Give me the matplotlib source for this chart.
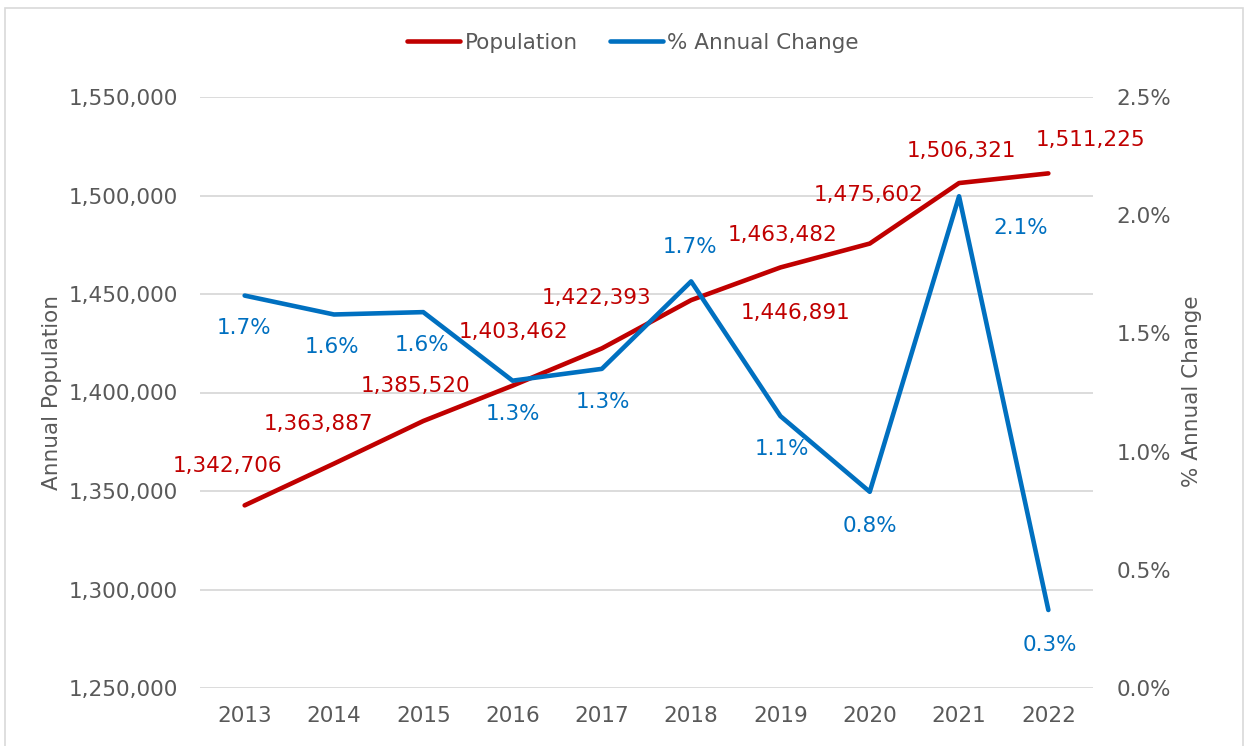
import matplotlib.pyplot as plt
from matplotlib.patches import Rectangle
from matplotlib.ticker import FuncFormatter, MultipleLocator

plt.rcParams['font.family'] = ['DejaVu Sans']

# data
years = ["2013", "2014", "2015", "2016", "2017", "2018", "2019", "2020", "2021", "2022"]
population = [1342706, 1363887, 1385520, 1403462, 1422393, 1446891, 1463482, 1475602, 1506321, 1511225]
pct_change = [1.66, 1.58, 1.59, 1.30, 1.35, 1.72, 1.15, 0.83, 2.08, 0.33]
pct_labels = ["1.7%", "1.6%", "1.6%", "1.3%", "1.3%", "1.7%", "1.1%", "0.8%", "2.1%", "0.3%"]

# label offsets in pixels (dx, dy) from the point
pop_off = [(-17, 39), (-15, 40), (-8, 35), (1, 54), (-5, 50), (104, -13), (2, 32), (-1, 49), (2, 32), (42, 33)]
pct_off = [(-1, -32), (-2, -33), (-1, -33), (0, -33), (1, -33), (-1, 34), (1, -33), (0, -34), (62, -32), (2, -35)]

red = "#C00000"
blue = "#0070C0"
grey = "#595959"
fs = 15.5

fig = plt.figure(figsize=(12.5, 7.46), dpi=100)
fig.patches.append(Rectangle((5 / 1250, -0.01), 1238 / 1250, 1 - 8 / 746 + 0.01,
                             transform=fig.transFigure, fill=False, edgecolor="#D9D9D9", lw=1.2))

ax = fig.add_axes([200 / 1250, 1 - 688 / 746, 893 / 1250, 591 / 746])
ax2 = ax.twinx()
x = list(range(len(years)))

ax.plot(x, population, color=red, lw=3.3, solid_capstyle="round", zorder=3, label="Population")
ax2.plot(x, pct_change, color=blue, lw=3.3, solid_capstyle="round", zorder=3, label="% Annual Change")

ax.set_xlim(-0.5, len(years) - 0.5)
ax.set_ylim(1250000, 1550000)
ax2.set_ylim(0, 2.5)
ax.yaxis.set_major_locator(MultipleLocator(50000))
ax2.yaxis.set_major_locator(MultipleLocator(0.5))
ax.yaxis.set_major_formatter(FuncFormatter(lambda v, p: f"{v:,.0f}"))
ax2.yaxis.set_major_formatter(FuncFormatter(lambda v, p: f"{v:.1f}%"))
ax.set_xticks(x)
ax.set_xticklabels(years)

ax.grid(axis="y", color="#D9D9D9", lw=1.3)
ax.set_axisbelow(True)
for a in (ax, ax2):
    for s in a.spines.values():
        s.set_visible(False)
    a.tick_params(length=0, labelsize=fs, labelcolor=grey)
ax.tick_params(axis="y", pad=16)
ax.tick_params(axis="x", pad=13)
ax2.tick_params(axis="y", pad=17)

for i in x:
    ax.annotate(f"{population[i]:,}", (i, population[i]), xytext=pop_off[i],
                textcoords="offset pixels", ha="center", va="center", color=red, fontsize=fs)
    ax2.annotate(pct_labels[i], (i, pct_change[i]), xytext=pct_off[i],
                 textcoords="offset pixels", ha="center", va="center", color=blue, fontsize=fs)

fig.text(52 / 1250, 1 - 392 / 746, "Annual Population", rotation=90, ha="center", va="center",
         color=grey, fontsize=fs)
fig.text(1192 / 1250, 1 - 391 / 746, "% Annual Change", rotation=90, ha="center", va="center",
         color=grey, fontsize=fs)

h1, l1 = ax.get_legend_handles_labels()
h2, l2 = ax2.get_legend_handles_labels()
fig.legend(h1 + h2, l1 + l2, loc="center", bbox_to_anchor=(633 / 1250, 1 - 43 / 746), ncol=2,
           frameon=False, fontsize=fs, labelcolor=grey, handlelength=2.45, handletextpad=0.2,
           columnspacing=1.5)

fig.savefig("out.png", dpi=100)
